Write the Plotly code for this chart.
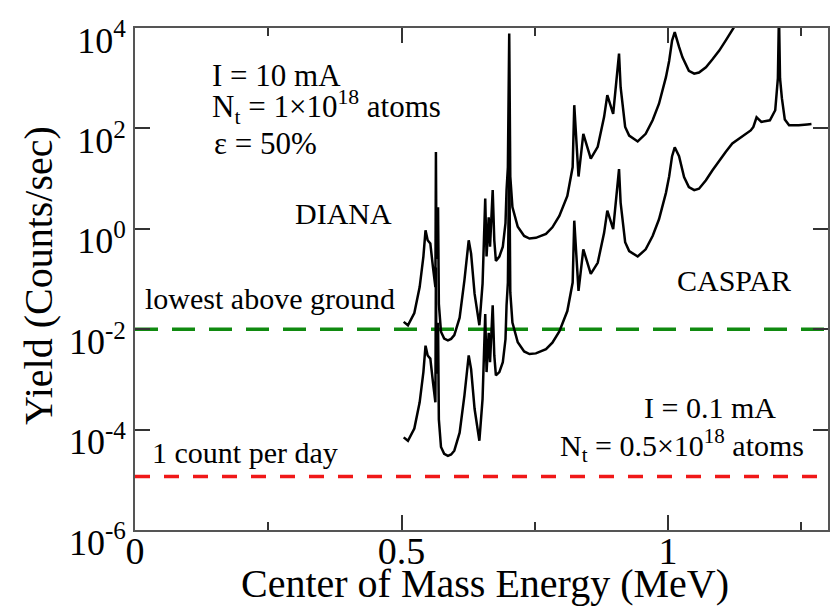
import plotly.graph_objects as go

# ---------------- data ----------------
energy_diana = [0.504, 0.512, 0.524, 0.534, 0.541, 0.545, 0.549, 0.554, 0.559, 0.5635,
                0.5645, 0.5655, 0.5685, 0.570, 0.574, 0.580, 0.587, 0.593, 0.599, 0.609,
                0.618, 0.624, 0.626, 0.6305, 0.637, 0.646, 0.652, 0.657, 0.6595, 0.6635,
                0.666, 0.671, 0.674, 0.677, 0.6835, 0.690, 0.695, 0.697, 0.6995, 0.702,
                0.704, 0.708, 0.718, 0.730, 0.740, 0.752, 0.771, 0.783, 0.796, 0.811,
                0.821, 0.824, 0.827, 0.832, 0.841, 0.855, 0.868, 0.880, 0.886, 0.897,
                0.908, 0.911, 0.9195, 0.927, 0.943, 0.958, 0.971, 0.983, 0.996, 1.002,
                1.0075, 1.0125, 1.0206, 1.027, 1.039, 1.049, 1.058, 1.071, 1.083, 1.096,
                1.108, 1.124, 1.142]
yield_diana = [1.4e-2, 1.2e-2, 2.1e-2, 6.9e-2, 0.28, 0.93, 0.59, 0.51, 0.17, 6.9e-2,
               34, 0.25, 2.7, 3.2e-2, 8.9e-3, 6.5e-3, 6.0e-3, 6.4e-3, 7.6e-3, 1.7e-2,
               9.5e-2, 0.44, 0.59, 0.32, 5.1e-2, 1.2e-2, 8.1e-2, 4.0, 0.28, 1.7,
               0.44, 5.9, 0.59, 0.23, 0.28, 0.44, 1.3, 5.9, 17, 7800,
               11, 2.7, 1.1, 0.72, 0.64, 0.66, 0.79, 1.07, 1.8, 4.5,
               17, 290, 91, 11, 78, 25, 43, 170, 460, 195,
               3100, 660, 107, 72, 55, 78, 145, 310, 1050, 2200,
               5600, 8300, 4200, 2600, 1400, 1230, 1300, 1650, 2350, 3550,
               5600, 10500, 18000]

energy_caspar = [0.504, 0.512, 0.524, 0.534, 0.541, 0.545, 0.549, 0.554, 0.559, 0.5635,
                 0.5645, 0.5655, 0.5685, 0.570, 0.574, 0.580, 0.587, 0.593, 0.599, 0.609,
                 0.618, 0.624, 0.626, 0.6305, 0.637, 0.646, 0.652, 0.657, 0.6595, 0.6635,
                 0.666, 0.671, 0.674, 0.677, 0.6835, 0.690, 0.695, 0.697, 0.6995, 0.702,
                 0.704, 0.708, 0.718, 0.730, 0.740, 0.752, 0.771, 0.783, 0.796, 0.811,
                 0.821, 0.824, 0.827, 0.832, 0.841, 0.855, 0.868, 0.880, 0.886, 0.897,
                 0.908, 0.911, 0.9195, 0.927, 0.943, 0.958, 0.971, 0.983, 0.996, 1.002,
                 1.0075, 1.0125, 1.0206, 1.030, 1.039, 1.049, 1.058, 1.071, 1.083, 1.096,
                 1.108, 1.1205, 1.133, 1.1455, 1.155, 1.160, 1.166, 1.175, 1.191, 1.201,
                 1.206, 1.208, 1.210, 1.2135, 1.219, 1.227, 1.245, 1.261, 1.269]
yield_caspar = [7.0e-5, 6.0e-5, 1.05e-4, 3.5e-4, 1.4e-3, 4.7e-3, 3.0e-3, 2.6e-3, 8.7e-4, 3.5e-4,
                0.17, 1.3e-3, 1.35e-2, 1.6e-4, 4.5e-5, 3.3e-5, 3.0e-5, 3.2e-5, 3.8e-5, 8.7e-5,
                4.8e-4, 2.2e-3, 3.0e-3, 1.6e-3, 2.6e-4, 6.0e-5, 4.1e-4, 2.0e-2, 1.4e-3, 8.5e-3,
                2.2e-3, 3.0e-2, 3.0e-3, 1.2e-3, 1.4e-3, 2.2e-3, 6.3e-3, 3.0e-2, 8.5e-2, 39,
                5.4e-2, 1.35e-2, 5.5e-3, 3.6e-3, 3.2e-3, 3.3e-3, 4.0e-3, 5.4e-3, 9.0e-3, 2.3e-2,
                8.5e-2, 1.45, 0.46, 5.8e-2, 0.39, 0.126, 0.21, 0.83, 2.3, 0.98,
                15.5, 3.3, 0.54, 0.36, 0.28, 0.39, 0.72, 1.55, 5.2, 11,
                28, 42, 28, 10.7, 6.8, 5.9, 6.3, 9.3, 14.5, 23,
                34, 50, 63, 78, 91, 107, 166, 135, 145, 230,
                1000, 20000, 1000, 400, 150, 115, 115, 120, 123]

level_energy = [0.0, 1.3]
lowest_above_ground = [1e-2, 1e-2]
one_count_per_day = [1.157e-5, 1.157e-5]

ytick_vals = [1e-6, 1e-4, 1e-2, 1e0, 1e2, 1e4]
ytick_text = ["10<sup>-6</sup>", "10<sup>-4</sup>", "10<sup>-2</sup>",
              "10<sup>0</sup>", "10<sup>2</sup>", "10<sup>4</sup>"]
xtick_vals = [0, 0.5, 1]
xtick_text = ["0", "0.5", "1"]

FONT = "Liberation Serif, Times New Roman, serif"

# ---------------- figure ----------------
fig = go.Figure()
fig.add_trace(go.Scatter(x=level_energy, y=lowest_above_ground, mode="lines",
                         line=dict(color="#108a10", width=3.5, dash="23px,14px"),
                         hoverinfo="skip", showlegend=False))
fig.add_trace(go.Scatter(x=level_energy, y=one_count_per_day, mode="lines",
                         line=dict(color="#f01818", width=3.5, dash="15px,14px"),
                         hoverinfo="skip", showlegend=False))
fig.add_trace(go.Scatter(x=energy_diana, y=yield_diana, mode="lines",
                         line=dict(color="black", width=2.5),
                         hoverinfo="skip", showlegend=False))
fig.add_trace(go.Scatter(x=energy_caspar, y=yield_caspar, mode="lines",
                         line=dict(color="black", width=2.5),
                         hoverinfo="skip", showlegend=False))

L, R, T, B = 135, 2, 28, 80
W, H = 830, 610
PW, PH = W - L - R, H - T - B


def px(X, Y):
    return (X - L) / PW, (H - B - Y) / PH


def note(text, X, Y, size=30, anchor="left", angle=0):
    xp, yp = px(X, Y)
    fig.add_annotation(text=text, x=xp, y=yp, xref="paper", yref="paper",
                       xanchor=anchor, yanchor="middle", showarrow=False,
                       textangle=angle, font=dict(family=FONT, size=size, color="black"))


note("I = 10 mA", 210, 75, 31)
note("N<sub>t</sub> = 1×10<sup>18</sup> atoms", 210, 107, 31)
note("ε = 50%", 212, 143, 31)
note("DIANA", 293, 213, 30)
note("lowest above ground", 143, 298, 30)
note("CASPAR", 675, 280, 30)
note("I = 0.1 mA", 642, 407, 30)
note("N<sub>t</sub> = 0.5×10<sup>18</sup> atoms", 558, 445, 30)
note("1 count per day", 150, 452, 30)
note("Center of Mass Energy (MeV)", 485, 583, 40, anchor="center")
note("Yield (Counts/sec)", 38, 276, 40, anchor="center", angle=-90)

axis_common = dict(showline=True, linecolor="#555555", linewidth=1.8, mirror="ticks",
                   ticks="inside", tickcolor="#333333", tickwidth=1.5, ticklen=15,
                   showgrid=False, zeroline=False, automargin=False)

fig.update_layout(
    width=W, height=H,
    margin=dict(l=L, r=R, t=T, b=B, pad=0, autoexpand=False),
    paper_bgcolor="white", plot_bgcolor="white",
    xaxis=dict(range=[0, 1.3], tickvals=xtick_vals, ticktext=xtick_text,
               tickfont=dict(family=FONT, size=38, color="black"),
               ticklabelstandoff=-14,
               minor=dict(ticks="inside", ticklen=8, tickwidth=1.5, tickcolor="#333333",
                          tickvals=[0.25, 0.75, 1.25], showgrid=False),
               **axis_common),
    yaxis=dict(type="log", range=[-6, 4], tickvals=ytick_vals, ticktext=ytick_text,
               tickfont=dict(family=FONT, size=36, color="black"),
               ticklabelshift=12, ticklabeloverflow="allow",
               **axis_common),
)

fig.write_html("out.html")
